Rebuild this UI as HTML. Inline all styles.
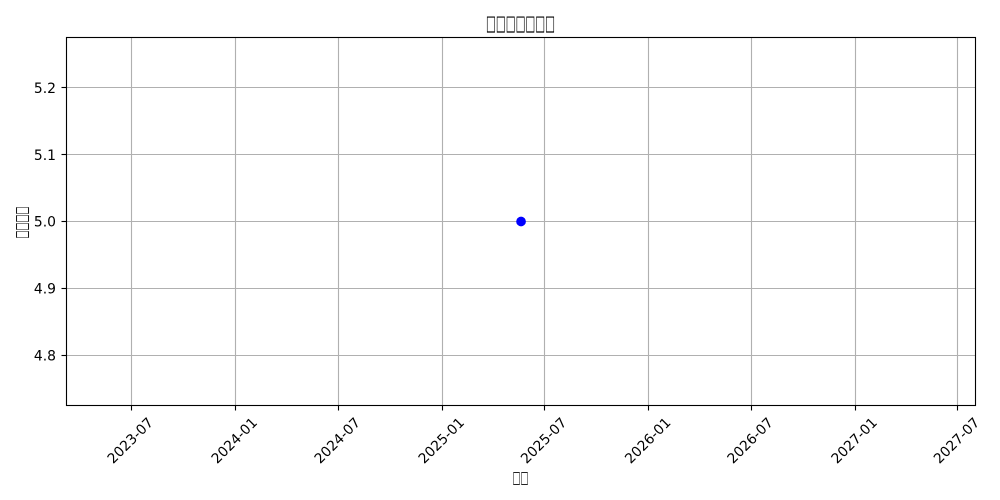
<!DOCTYPE html>
<html lang="zh">
<head>
<meta charset="utf-8">
<title>Chart</title>
<style>
html,body{margin:0;padding:0;background:#fff;width:1000px;height:500px;overflow:hidden}
svg{display:block}
text{font-family:"DejaVu Sans","Liberation Sans",sans-serif;fill:#000}
</style>
</head>
<body>
<svg id="chart" xmlns="http://www.w3.org/2000/svg" width="1000" height="500" viewBox="0 0 1000 500">
  <rect x="0" y="0" width="1000" height="500" fill="#fff"/>
  <g id="grid"></g>
  <g id="marks"></g>
  <rect x="66.5" y="37.5" width="909" height="368" fill="none" stroke="#000" stroke-width="1.11"/>
  <g id="ticks"></g>
  <text x="520.5" y="30" font-size="21" text-anchor="middle" textLength="69" lengthAdjust="spacingAndGlyphs">□□□□□□□</text>
  <text x="520.5" y="483" font-size="17" text-anchor="middle" textLength="16" lengthAdjust="spacingAndGlyphs">□□</text>
  <text transform="translate(27,222.5) rotate(-90)" font-size="17" text-anchor="middle" textLength="32" lengthAdjust="spacingAndGlyphs">□□□□</text>
</svg>
<script>
const xTickLabels = ['2023-07','2024-01','2024-07','2025-01','2025-07','2026-01','2026-07','2027-01','2027-07'];
const yTickValues = [4.8, 4.9, 5.0, 5.1, 5.2];
const seriesDates = ['2025-05-20'];
const seriesValues = [5.0];

const NS = 'http://www.w3.org/2000/svg';
const plot = { left: 66.9, right: 975.2, top: 37.5, bottom: 405.5 };
const xDomain = [Date.UTC(2023, 2, 9), Date.UTC(2027, 7, 1)];
const yDomain = [4.725, 5.275];

function xScale(ms) {
  return plot.left + (ms - xDomain[0]) / (xDomain[1] - xDomain[0]) * (plot.right - plot.left);
}
function yScale(v) {
  return plot.bottom - (v - yDomain[0]) / (yDomain[1] - yDomain[0]) * (plot.bottom - plot.top);
}
function snap(p) {
  return Math.floor(p) + 0.5;
}
function parseDate(s) {
  const p = s.split('-').map(Number);
  return Date.UTC(p[0], p[1] - 1, p[2] || 1);
}
function make(tag, attrs, parent) {
  const el = document.createElementNS(NS, tag);
  for (const k in attrs) el.setAttribute(k, attrs[k]);
  parent.appendChild(el);
  return el;
}

const grid = document.getElementById('grid');
const ticks = document.getElementById('ticks');
const marks = document.getElementById('marks');

xTickLabels.forEach(function (label) {
  const raw = xScale(parseDate(label));
  const x = snap(raw);
  const g = make('line', { x1: x, x2: x, y1: 37.5, y2: 405.5, stroke: '#b0b0b0', 'stroke-width': 1.11 }, grid);
  
  
  const t = make('line', { x1: x, x2: x, y1: 405.5, y2: 410.5, stroke: '#000', 'stroke-width': 1.11 }, ticks);
  
  
  const txt = make('text', { 'font-size': 13.89, 'text-anchor': 'middle', 'dominant-baseline': 'central', transform: 'translate(' + (raw - 0.6) + ',441) rotate(-45)' }, ticks);
  txt.textContent = label;
  
  
});

yTickValues.forEach(function (v) {
  const raw = yScale(v);
  const y = snap(raw);
  const g = make('line', { x1: 66.5, x2: 975.5, y1: y, y2: y, stroke: '#b0b0b0', 'stroke-width': 1.11 }, grid);
  
  
  const t = make('line', { x1: 61.5, x2: 66.5, y1: y, y2: y, stroke: '#000', 'stroke-width': 1.11 }, ticks);
  
  
  const txt = make('text', { x: 56, y: raw + 5.2, 'font-size': 13.89, 'text-anchor': 'end' }, ticks);
  txt.textContent = v.toFixed(1);
  
  
});

const points = seriesDates.map(function (d, i) {
  return [xScale(parseDate(d)), yScale(seriesValues[i])];
});
const line = make('polyline', { points: points.map(function (p) { return p.join(','); }).join(' '), fill: 'none', stroke: '#0000ff', 'stroke-width': 2.08 }, marks);


points.forEach(function (p) {
  const c = make('circle', { cx: p[0], cy: p[1], r: 4.86, fill: '#0000ff' }, marks);
  
  
});
</script>
</body>
</html>
